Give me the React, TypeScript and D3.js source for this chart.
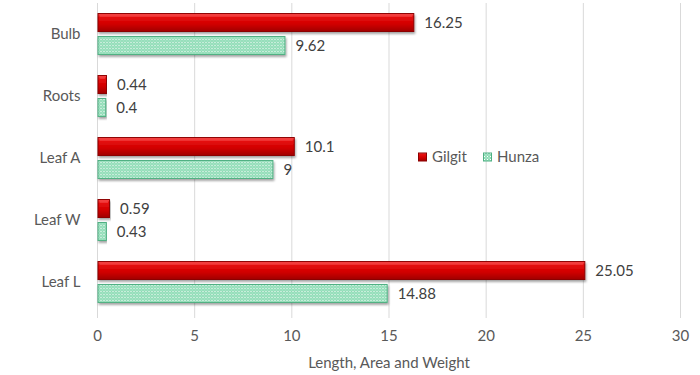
import React from "react";
import * as d3 from "d3";

const categories = ["Bulb", "Roots", "Leaf A", "Leaf W", "Leaf L"];
const seriesNames = ["Gilgit", "Hunza"];
const gilgit = [16.25, 0.44, 10.1, 0.59, 25.05];
const hunza = [9.62, 0.4, 9, 0.43, 14.88];
const xTicks = [0, 5, 10, 15, 20, 25, 30];
const xTitle = "Length, Area and Weight";

const W = 700;
const H = 375;
const margin = { top: 3, right: 19.5, bottom: 63, left: 97.5 };
const font = "Lato, 'Liberation Sans', Arial, sans-serif";
const textColor = "#595959";
const fs = 15;

export default function App() {
  const plotW = W - margin.left - margin.right;
  const plotH = H - margin.top - margin.bottom;

  const x = d3.scaleLinear().domain([0, 30]).range([0, plotW]);
  const y = d3
    .scaleBand<string>()
    .domain(categories)
    .range([0, plotH + 1])
    .paddingInner(0.34)
    .paddingOuter(0.17);
  const sub = d3
    .scaleBand<string>()
    .domain(seriesNames)
    .range([0, y.bandwidth()])
    .paddingInner(0.217);

  const values = [gilgit, hunza];
  const fills = ["url(#redGrad)", "url(#greenDots)"];
  const strokes = ["#8c0000", "#4fb083"];

  return (
    <svg
      width={W}
      height={H}
      style={{ position: "absolute", left: 0, top: 0, background: "#fff" }}
      fontFamily={font}
    >
      <defs>
        <linearGradient id="redGrad" x1="0" y1="0" x2="0" y2="1">
          <stop offset="0" stopColor="#ff5a5a" />
          <stop offset="0.15" stopColor="#e81010" />
          <stop offset="0.6" stopColor="#d00000" />
          <stop offset="1" stopColor="#a00000" />
        </linearGradient>
        <pattern id="greenDots" width="3" height="3" patternUnits="userSpaceOnUse">
          <rect width="3" height="3" fill="#8edbb5" />
          <rect width="1" height="1" fill="#ffffff" />
          <rect x="1.5" y="1.5" width="1" height="1" fill="#dcf7ea" />
        </pattern>
        <filter id="shadow" x="-5%" y="-30%" width="110%" height="180%">
          <feDropShadow dx="1" dy="2" stdDeviation="1.2" floodColor="#000" floodOpacity="0.35" />
        </filter>
      </defs>

      <g transform={`translate(${margin.left},${margin.top})`}>
        {xTicks.map((t) => (
          <line
            key={t}
            x1={x(t)}
            x2={x(t)}
            y1={0}
            y2={plotH + 6}
            stroke="#d9d9d9"
            strokeWidth={1}
          />
        ))}

        {categories.map((c, i) => (
          <g key={c}>
            {values.map((vals, s) => {
              const by = (y(c) ?? 0) + (sub(seriesNames[s]) ?? 0);
              const bh = sub.bandwidth();
              const bw = x(vals[i]) - x(0);
              return (
                <g key={s}>
                  <rect
                    x={x(0) + 0.5}
                    y={by}
                    width={bw}
                    height={bh}
                    fill={fills[s]}
                    stroke={strokes[s]}
                    strokeWidth={1}
                    filter="url(#shadow)"
                  />
                  {s === 0 && (
                    <line
                      x1={x(0) + 2}
                      x2={x(0) + bw - 1}
                      y1={by + 2.5}
                      y2={by + 2.5}
                      stroke="#ff8080"
                      strokeOpacity={0.6}
                      strokeWidth={1}
                    />
                  )}
                  <text
                    x={x(vals[i]) + 11}
                    y={by + bh / 2}
                    dy="0.35em"
                    fontSize={fs}
                    fill="#404040"
                  >
                    {vals[i]}
                  </text>
                </g>
              );
            })}
            <text
              x={-17}
              y={(y(c) ?? 0) + y.bandwidth() / 2}
              dy="0.35em"
              textAnchor="end"
              fontSize={fs}
              fill={textColor}
            >
              {c}
            </text>
          </g>
        ))}

        {xTicks.map((t) => (
          <text
            key={t}
            x={x(t)}
            y={333}
            dy="0.35em"
            textAnchor="middle"
            fontSize={fs}
            fill={textColor}
          >
            {t}
          </text>
        ))}

        <text
          x={plotW / 2}
          y={360}
          dy="0.35em"
          textAnchor="middle"
          fontSize={fs}
          fill={textColor}
        >
          {xTitle}
        </text>
      </g>

      <g transform="translate(418,153)">
        <rect x={0.5} y={0} width={8} height={8} fill="url(#redGrad)" stroke="#8c0000" />
        <text x={14} y={4} dy="0.35em" fontSize={fs} fill={textColor}>
          {seriesNames[0]}
        </text>
        <rect x={65.5} y={0} width={8} height={8} fill="url(#greenDots)" stroke="#4fb083" />
        <text x={79} y={4} dy="0.35em" fontSize={fs} fill={textColor}>
          {seriesNames[1]}
        </text>
      </g>
    </svg>
  );
}
